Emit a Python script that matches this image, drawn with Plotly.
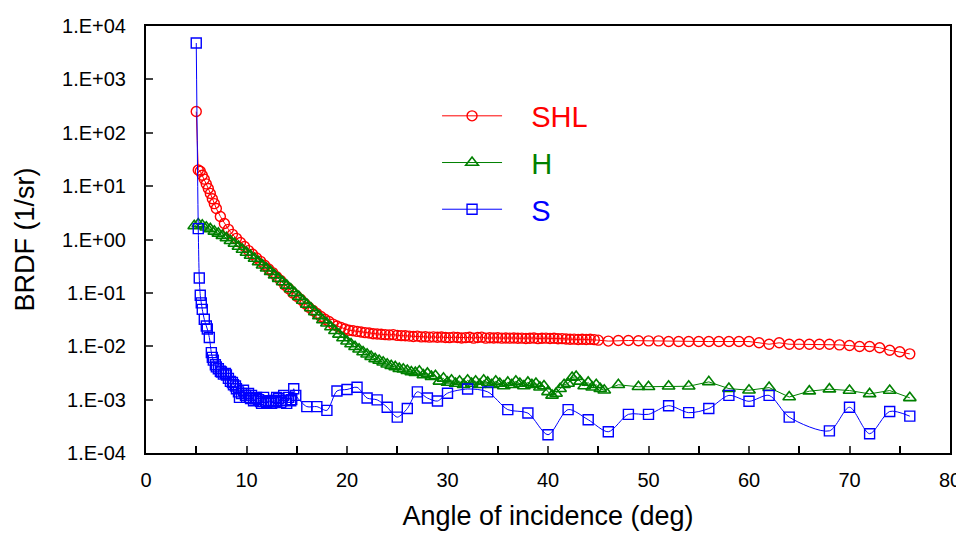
import plotly.graph_objects as go

# ---------------- data ----------------
shl_x = [5.0, 5.2, 5.4, 5.6, 5.8, 6.0, 6.2, 6.4, 6.6, 6.8, 7.0, 7.4, 7.8, 8.2, 8.6, 9.0, 9.4, 9.8,
         10.2, 10.6, 11.0, 11.4, 11.8, 12.2, 12.6, 13.0, 13.4, 13.8, 14.2, 14.6, 15.0, 15.4, 15.8,
         16.2, 16.6, 17.0, 17.4, 17.8, 18.2, 18.6, 19.0, 19.4, 19.8, 20.2, 20.6, 21.0, 21.4, 21.8,
         22.2, 22.6, 23.0, 23.4, 23.8, 24.2, 24.6, 25.0, 25.4, 25.8, 26.2, 26.6, 27.0, 27.4, 27.8,
         28.2, 28.6, 29.0, 29.4, 29.8, 30.2, 30.6, 31.0, 31.4, 31.8, 32.2, 32.6, 33.0, 33.4, 33.8,
         34.2, 34.6, 35.0, 35.4, 35.8, 36.2, 36.6, 37.0, 37.4, 37.8, 38.2, 38.6, 39.0, 39.4, 39.8,
         40.2, 40.6, 41.0, 41.4, 41.8, 42.2, 42.6, 43.0, 43.4, 43.8, 44.2, 44.6,
         45, 46, 47, 48, 49, 50, 51, 52, 53, 54, 55, 56, 57, 58, 59, 60, 61, 62, 63, 64, 65, 66,
         67, 68, 69, 70, 71, 72, 73, 74, 75, 76]
shl_y = [250, 20, 19, 16, 13.5, 11, 9, 7.3, 5.8, 4.7, 3.8, 2.7, 2.0, 1.55, 1.25, 1.05, 0.88, 0.74,
         0.62, 0.53, 0.45, 0.39, 0.33, 0.28, 0.24, 0.20, 0.17, 0.14, 0.12, 0.10, 0.087, 0.075, 0.063,
         0.054, 0.047, 0.041, 0.036, 0.032, 0.029, 0.026, 0.024, 0.0225, 0.021, 0.020, 0.0195, 0.019,
         0.0185, 0.018, 0.0177, 0.0172, 0.017, 0.0168, 0.0165, 0.0163, 0.0165, 0.016, 0.0158, 0.0157,
         0.0155, 0.0152, 0.0155, 0.015, 0.0151, 0.0148, 0.015, 0.0147, 0.0149, 0.0146, 0.0145, 0.0148,
         0.0146, 0.0143, 0.0145, 0.0147, 0.0142, 0.0146, 0.0148, 0.0142, 0.0144, 0.0143, 0.0144,
         0.0142, 0.0143, 0.0142, 0.0143, 0.0141, 0.0142, 0.014, 0.0141, 0.0143, 0.0139, 0.0141,
         0.0142, 0.014, 0.0141, 0.0138, 0.0139, 0.0137, 0.0135, 0.0136, 0.0134, 0.0135, 0.0134,
         0.0135, 0.0133,
         0.0130, 0.0125, 0.0128, 0.0128, 0.0127, 0.0126, 0.0126, 0.01225, 0.01225, 0.01225, 0.01225,
         0.01225, 0.01225, 0.01225, 0.01225, 0.01225, 0.0116, 0.0109, 0.0116, 0.0109, 0.0109, 0.0109,
         0.0109, 0.0109, 0.0106, 0.0103, 0.0099, 0.0099, 0.0094, 0.0084, 0.0079, 0.0072]

h_x = [4.8, 5.2, 5.6, 6.0, 6.4, 6.8, 7.2, 7.6, 8.0, 8.4, 8.8, 9.2, 9.6, 10.0, 10.4, 10.8, 11.2,
       11.6, 12.0, 12.4, 12.8, 13.2, 13.6, 14.0, 14.4, 14.8, 15.2, 15.6, 16.0, 16.4, 16.8, 17.2,
       17.6, 18.0, 18.4, 18.8, 19.2, 19.6, 20.0, 20.4, 20.8, 21.2, 21.6, 22.0, 22.4, 22.8, 23.2,
       23.6, 24.0, 24.4, 24.8, 25.2, 25.6, 26.0, 26.4, 26.8, 27.2, 27.6, 28.0, 28.4, 28.8, 29.2,
       29.6, 30.0, 30.4, 30.8, 31.2, 31.6, 32.0, 32.4, 32.8, 33.2, 33.6, 34.0, 34.4, 34.8, 35.2,
       35.6, 36.0, 36.4, 36.8, 37.2, 37.6, 38.0, 38.4, 38.8, 39.2, 39.6, 40.0, 40.4, 40.8, 41.2,
       41.6, 42.0, 42.4, 42.8, 43.2, 43.6, 44.0, 44.4, 44.8, 45.2, 45.6,
       47, 49, 50, 52, 54, 56, 58, 60, 62, 64, 66, 68, 70, 72, 74, 76]
h_y = [1.8, 1.95, 1.85, 1.7, 1.58, 1.42, 1.3, 1.18, 1.07, 0.95, 0.84, 0.74, 0.65, 0.57, 0.5, 0.44,
       0.38, 0.33, 0.29, 0.25, 0.215, 0.185, 0.16, 0.138, 0.118, 0.1, 0.085, 0.072, 0.061, 0.052,
       0.044, 0.037, 0.031, 0.027, 0.023, 0.0195, 0.0167, 0.0143, 0.0124, 0.011, 0.0098, 0.0088,
       0.0078, 0.0071, 0.0064, 0.0058, 0.0054, 0.0050, 0.0046, 0.0043, 0.0041, 0.0038, 0.0037,
       0.0035, 0.0033, 0.0032, 0.0034, 0.0029, 0.0031, 0.0027, 0.0028, 0.0022, 0.0025, 0.0021,
       0.0023, 0.0020, 0.0022, 0.0019, 0.0023, 0.0020, 0.0022, 0.0019, 0.0023, 0.0021, 0.0019,
       0.0022, 0.0020, 0.0018, 0.0021, 0.0019, 0.0022, 0.0020, 0.0018, 0.0021, 0.0019, 0.0020,
       0.0017, 0.0018, 0.0014, 0.0012, 0.0013, 0.0016, 0.0019, 0.0020, 0.0026, 0.0027, 0.0022,
       0.0018, 0.0021, 0.0017, 0.0019, 0.0016, 0.0015,
       0.0019, 0.00174, 0.00174, 0.00178, 0.00178, 0.00215, 0.00161, 0.0015, 0.00168, 0.00112,
       0.00144, 0.00157, 0.00148, 0.00128, 0.00148, 0.00108]

s_x = [5.0, 5.2, 5.3, 5.4, 5.5, 5.6, 5.8, 6.0, 6.1, 6.3, 6.5, 6.6, 6.7, 6.9, 7.0, 7.2, 7.4, 7.5,
       7.7, 7.9, 8.0, 8.2, 8.4, 8.6, 8.7, 8.9, 9.0, 9.2, 9.3, 9.5, 9.7, 9.9, 10.0, 10.2, 10.4,
       10.5, 10.7, 10.9, 11.0, 11.2, 11.4, 11.5, 11.7, 11.9, 12.0, 12.2, 12.4, 12.5, 12.7, 12.9,
       13.0, 13.2, 13.4, 13.5, 13.7, 13.9, 14.0, 14.2, 14.4, 14.5, 14.7, 14.9,
       16, 17, 18, 19, 20, 21, 22, 23, 24, 25, 26, 27, 28, 29, 30, 32, 34, 36, 38, 40, 42, 44,
       46, 48, 50, 52, 54, 56, 58, 60, 62, 64, 68, 70, 72, 74, 76]
s_y = [4800, 1.6, 0.19, 0.09, 0.065, 0.049, 0.032, 0.024, 0.021, 0.0146, 0.0076, 0.0062, 0.0055,
       0.0045, 0.0041, 0.0038, 0.0034, 0.0033, 0.003, 0.0031, 0.0029, 0.0025, 0.0022, 0.0021,
       0.0019, 0.0018, 0.0016, 0.0014, 0.0011, 0.0013, 0.0015, 0.0012, 0.0011, 0.0013, 0.00105,
       0.0012, 0.00095, 0.00104, 0.0011, 0.0010, 0.00092, 0.00085, 0.0011, 0.00093, 0.00088,
       0.00095, 0.0009, 0.00085, 0.00097, 0.00092, 0.0011, 0.00105, 0.00088, 0.00095, 0.0012,
       0.00098, 0.00085, 0.0011, 0.00095, 0.001, 0.0016, 0.0012,
       0.00074, 0.00074, 0.00063, 0.00145, 0.00155, 0.0017, 0.00107, 0.00099, 0.00072, 0.00047,
       0.00068, 0.0014, 0.00107, 0.00094, 0.00132, 0.00158, 0.0014, 0.00065, 0.00056, 0.00022,
       0.00065, 0.00042, 0.00025, 0.00053, 0.00053, 0.00077, 0.00057, 0.00068, 0.0012, 0.00093,
       0.0012, 0.00047, 0.00026, 0.00072, 0.00023, 0.0006, 0.00049]

y_tickvals = [1e-4, 1e-3, 1e-2, 1e-1, 1e0, 1e1, 1e2, 1e3, 1e4]
y_ticktext = ["1.E-04", "1.E-03", "1.E-02", "1.E-01", "1.E+00", "1.E+01", "1.E+02", "1.E+03", "1.E+04"]
x_tickvals = [0, 10, 20, 30, 40, 50, 60, 70, 80]

FONT = "Arial, Liberation Sans, sans-serif"
RED, GREEN, BLUE = "#FF0000", "#008000", "#0000FF"
PAD = "&nbsp;&nbsp;&nbsp;"

fig = go.Figure()
fig.add_trace(go.Scatter(
    x=shl_x, y=shl_y, name=f"{PAD}<span style='color:{RED}'>SHL</span>", legendgroup="a",
    mode="lines+markers", line=dict(color=RED, width=1),
    marker=dict(symbol="circle-open", size=10, color=RED, line=dict(width=1.4, color=RED))))
fig.add_trace(go.Scatter(
    x=h_x, y=h_y, name=f"{PAD}<span style='color:{GREEN}'>H</span>", legendgroup="b",
    mode="lines+markers", line=dict(color=GREEN, width=1),
    marker=dict(symbol="triangle-up-open", size=11, color=GREEN, line=dict(width=1.6, color=GREEN))))
fig.add_trace(go.Scatter(
    x=s_x, y=s_y, name=f"{PAD}<span style='color:{BLUE}'>S</span>", legendgroup="c",
    mode="lines+markers", line=dict(color=BLUE, width=1, shape="spline", smoothing=0.8),
    marker=dict(symbol="square-open", size=10, color=BLUE, line=dict(width=1.4, color=BLUE))))

fig.update_layout(
    width=964, height=533,
    margin=dict(l=138, r=22, t=18, b=88),
    paper_bgcolor="white", plot_bgcolor="white",
    font=dict(family=FONT, size=20, color="black"),
    showlegend=True,
    legend=dict(x=0.362, y=0.849, xanchor="left", yanchor="top",
                bgcolor="rgba(0,0,0,0)", borderwidth=0,
                font=dict(size=29), tracegroupgap=6, itemwidth=60),
    xaxis=dict(range=[0, 80], tickvals=x_tickvals, ticks="inside", ticklen=7, tickwidth=1.5,
               showline=True, linecolor="black", linewidth=2, mirror=True, showgrid=False,
               zeroline=False, tickfont=dict(size=20), automargin=False, ticklabelstandoff=8,
               minor=dict(dtick=5, ticks="inside", ticklen=7, tickwidth=1.5, tickcolor="black", showgrid=False),
               title=dict(text="Angle of incidence (deg)", font=dict(size=27), standoff=16)),
    yaxis=dict(type="log", range=[-4, 4], tickvals=y_tickvals, ticktext=y_ticktext,
               ticks="inside", ticklen=7, tickwidth=1.5,
               showline=True, linecolor="black", linewidth=2, mirror=True, showgrid=False,
               zeroline=False, tickfont=dict(size=20), automargin=False, ticklabelstandoff=14,
               title=dict(text="BRDF (1/sr)", font=dict(size=27), standoff=20)),
)

fig.write_html("out.html")
